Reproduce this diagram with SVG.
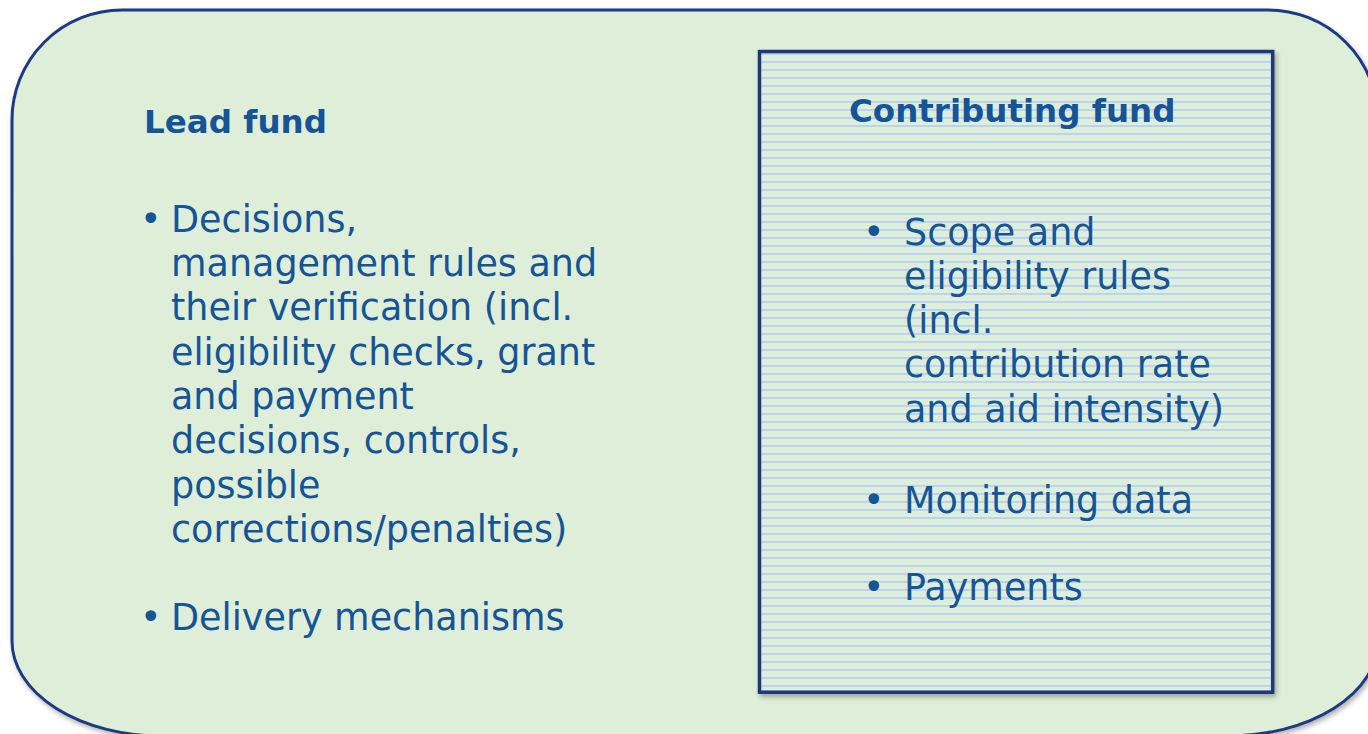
<svg xmlns="http://www.w3.org/2000/svg" width="1368" height="734" viewBox="0 0 1368 734">
  <style>
    .t { font-family: "DejaVu Sans", Verdana, sans-serif; fill: #155496; }
    .h { font-size: 32.5px; font-weight: bold; }
    .b { font-size: 36.5px; }
  </style>
  <defs>
    <filter id="sh" x="-5%" y="-5%" width="115%" height="115%">
      <feDropShadow dx="2" dy="3" stdDeviation="2.5" flood-color="#000" flood-opacity="0.3"/>
    </filter>
    <pattern id="hatch" patternUnits="userSpaceOnUse" x="0" y="0" width="8" height="8">
      <rect x="0" y="0" width="8" height="8" fill="#DFEED8"/>
      <rect x="0" y="5" width="8" height="2" fill="#B9D3F5"/>
    </pattern>
  </defs>
  <rect width="1368" height="734" fill="#FFFFFF"/>
  <g id="lead-fund">
    <path d="M 122 10 L 1268 10 A 110 110 0 0 1 1378 120 L 1378 641 A 150 95 0 0 1 1228 736 L 162 736 A 150 95 0 0 1 12 641 L 12 120 A 110 110 0 0 1 122 10 Z" fill="#DFEED8" stroke="#1C3A82" stroke-width="3" filter="url(#sh)"/>
    <text class="t h" x="144" y="133">Lead fund</text>
    <text class="t b" x="140" y="232">•</text>
    <text class="t b" x="171" y="232">Decisions,</text>
    <text class="t b" x="171" y="276">management rules and</text>
    <text class="t b" x="171" y="320">their verification (incl.</text>
    <text class="t b" x="171" y="365">eligibility checks, grant</text>
    <text class="t b" x="171" y="409">and payment</text>
    <text class="t b" x="171" y="453">decisions, controls,</text>
    <text class="t b" x="171" y="498">possible</text>
    <text class="t b" x="171" y="542">corrections/penalties)</text>
    <text class="t b" x="140" y="630">•</text>
    <text class="t b" x="171" y="630">Delivery mechanisms</text>
  </g>
  <g id="contributing-fund">
    <rect x="759.5" y="51.5" width="513.2" height="640.7" fill="url(#hatch)" stroke="#1A3878" stroke-width="3.5" filter="url(#sh)"/>
    <text class="t h" x="849" y="122">Contributing fund</text>
    <text class="t b" x="863" y="245">•</text>
    <text class="t b" x="904" y="245">Scope and</text>
    <text class="t b" x="904" y="289">eligibility rules</text>
    <text class="t b" x="904" y="333">(incl.</text>
    <text class="t b" x="904" y="377">contribution rate</text>
    <text class="t b" x="904" y="422">and aid intensity)</text>
    <text class="t b" x="863" y="513">•</text>
    <text class="t b" x="904" y="513">Monitoring data</text>
    <text class="t b" x="863" y="600">•</text>
    <text class="t b" x="904" y="600">Payments</text>
  </g>
  <g id="connectors"/>
</svg>
